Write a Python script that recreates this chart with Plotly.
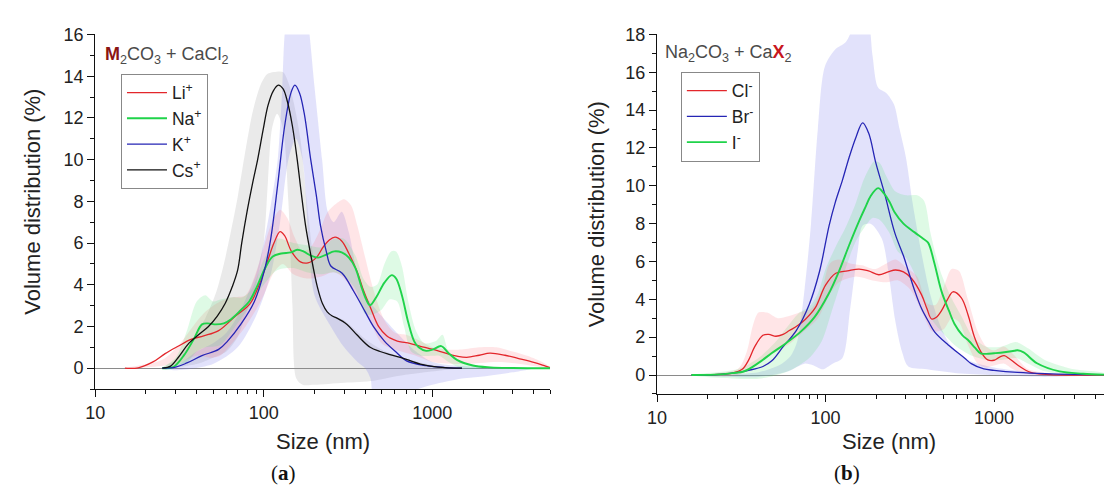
import math
import plotly.graph_objects as go

# ---------------- Panel (a): M2CO3 + CaCl2 ----------------
a_li_x = [15, 18, 22, 26, 31, 37, 44, 54, 68, 83, 95, 105, 115, 125, 133, 146, 165, 183, 205, 225, 245, 265, 290, 320, 357, 391, 430, 480, 536, 560, 620, 700, 850, 1010, 1200, 1400, 1600, 1900, 2200, 2700, 3300, 4000, 4700, 5000]
a_li_y = [0, 0.02, 0.3, 0.7, 1.05, 1.38, 1.55, 1.8, 2.5, 3.1, 4.1, 5.1, 6.0, 6.55, 6.35, 5.6, 5.1, 5.05, 5.3, 5.8, 6.15, 6.28, 6.1, 5.5, 4.66, 3.72, 2.9, 2.0, 1.55, 1.45, 1.3, 1.22, 1.05, 0.9, 0.72, 0.58, 0.52, 0.62, 0.72, 0.62, 0.45, 0.28, 0.1, 0.03]

a_na_x = [25, 29, 33.5, 38.5, 43, 46.5, 52, 58, 64, 73, 82, 91, 102, 113, 127, 145, 158, 172, 190, 210, 235, 262, 290, 320, 350, 380, 405, 427, 465, 520, 575, 610, 660, 720, 780, 830, 920, 1010, 1130, 1250, 1400, 1740, 2200, 3000, 5000]
a_na_y = [0, 0.05, 0.6, 1.4, 2.1, 2.15, 2.1, 2.15, 2.35, 2.78, 3.2, 3.9, 4.8, 5.35, 5.5, 5.55, 5.68, 5.6, 5.4, 5.3, 5.45, 5.6, 5.55, 5.3, 4.8, 3.9, 3.3, 3.02, 3.4, 4.1, 4.46, 4.3, 3.5, 2.2, 1.3, 1.0, 0.83, 0.9, 1.06, 0.72, 0.4, 0.13, 0.04, 0.01, 0]

a_k_x = [25, 30, 35, 43, 54, 61, 73, 88, 101, 110, 121, 133, 145, 153, 163, 174, 190, 205, 217, 235, 250, 292, 341, 400, 447, 520, 614, 703, 920, 1200, 1500]
a_k_y = [0, 0.05, 0.25, 0.6, 0.9, 1.3, 2.1, 3.2, 4.7, 6.2, 8.8, 11.6, 13.2, 13.57, 13.2, 12.2, 10.0, 8.3, 6.85, 5.6, 4.9, 4.55, 3.7, 2.7, 2.0, 1.3, 0.75, 0.35, 0.12, 0.03, 0]

a_cs_x = [25, 28, 31, 36, 41, 47, 53, 59, 65, 70, 74, 80, 86, 92, 99, 106, 114, 122, 130, 138, 148, 158, 167, 177, 190, 208, 223, 238, 255, 272, 312, 357, 428, 490, 561, 703, 850, 1080, 1500]
a_cs_y = [0, 0.1, 0.5, 1.2, 1.6, 2.0, 2.5, 3.1, 3.9, 4.7, 6.0, 7.6, 8.9, 10.0, 11.4, 12.6, 13.3, 13.57, 13.4, 12.8, 11.6, 10.0, 8.4, 6.85, 5.45, 3.9, 3.1, 2.7, 2.5, 2.4, 2.1, 1.6, 1.0, 0.8, 0.65, 0.42, 0.2, 0.05, 0]

# uncertainty bands (upper edge / lower edge)
a_li_up_x = [15, 25, 32, 38, 45, 55, 65, 78, 90, 100, 112, 125, 138, 152, 170, 190, 215, 240, 270, 300, 330, 360, 400, 450, 520, 600, 700, 850, 1000, 1200, 1500, 1900, 2400, 3000, 3800, 4600, 5000]
a_li_up_y = [0, 0.4, 1.2, 2.0, 2.7, 3.2, 3.4, 3.5, 4.6, 5.8, 7.0, 7.6, 7.2, 6.3, 5.6, 5.8, 6.6, 7.5, 7.9, 8.1, 7.8, 6.8, 5.3, 3.7, 2.3, 1.7, 1.6, 1.3, 1.0, 0.9, 0.9, 1.0, 1.0, 0.8, 0.55, 0.25, 0.05]
a_li_lo_x = [15, 30, 40, 48, 55, 65, 78, 90, 100, 115, 130, 150, 180, 220, 260, 300, 350, 420, 500, 600, 800, 1000, 1500, 2500, 4000, 5000]
a_li_lo_y = [0, 0.2, 0.6, 0.5, 0.6, 1.2, 2.0, 2.8, 3.5, 4.6, 5.0, 4.5, 4.3, 4.4, 4.6, 4.3, 3.5, 2.4, 1.2, 0.9, 0.6, 0.3, 0.2, 0.3, 0.1, 0]

a_na_up_x = [25, 30, 35, 40, 45, 50, 56, 65, 75, 85, 100, 120, 150, 180, 220, 260, 300, 350, 390, 430, 470, 520, 570, 610, 660, 720, 800, 900, 1050, 1150, 1250, 1500, 2000, 3000]
a_na_up_y = [0, 0.5, 1.8, 3.2, 3.5, 3.2, 3.3, 3.4, 3.4, 3.8, 5.2, 6.2, 6.0, 5.9, 5.8, 6.2, 6.2, 5.4, 4.3, 3.9, 4.0, 5.0, 5.6, 5.6, 4.9, 3.2, 1.8, 1.2, 1.3, 1.6, 0.8, 0.3, 0.1, 0]
a_na_lo_x = [25, 35, 40, 45, 55, 65, 80, 100, 120, 150, 180, 220, 260, 300, 350, 400, 450, 500, 560, 620, 680, 750, 850, 1000, 1100, 1250, 1500, 3000]
a_na_lo_y = [0, 0.3, 0.8, 1.0, 1.1, 1.8, 2.8, 4.0, 4.7, 4.8, 4.6, 4.5, 4.6, 4.4, 3.8, 2.6, 2.6, 2.8, 3.3, 3.2, 2.0, 0.8, 0.6, 0.6, 0.6, 0.3, 0.0, 0]

a_k_up_x = [25, 30, 40, 50, 60, 70, 80, 90, 100, 110, 121, 128, 135, 150, 165, 180, 200, 222, 240, 260, 290, 320, 360, 400, 500, 600, 800, 1000, 1500, 3000]
a_k_up_y = [0, 0.1, 0.8, 1.2, 1.7, 2.5, 3.5, 4.5, 6.0, 7.8, 10.0, 13.0, 16.5, 18, 18, 17, 13.5, 10.0, 7.5, 7.0, 7.5, 6.5, 4.5, 3.5, 2.5, 1.8, 0.8, 0.3, 0.1, 0]
a_k_lo_x = [25, 30, 50, 70, 90, 110, 125, 140, 155, 170, 185, 200, 250, 300, 360, 400, 430, 450, 600, 1000, 1500, 2000, 3000, 4000]
a_k_lo_y = [0, -0.1, 0.2, 1.0, 2.5, 4.5, 7.0, 10.0, 11.0, 10.0, 6.0, 3.5, 2.0, 1.0, 0.3, 0.0, -0.5, -1.3, -1.3, -0.8, -0.5, -0.4, -0.2, 0]

a_cs_up_x = [25, 30, 35, 45, 52, 58, 64, 70, 77, 86, 96, 105, 115, 130, 140, 150, 165, 180, 195, 210, 230, 260, 300, 400, 500, 700, 1000, 1500]
a_cs_up_y = [0, 0.4, 1.0, 2.4, 3.6, 5.0, 6.6, 8.2, 10.2, 12.3, 13.6, 14.1, 14.2, 14.2, 13.7, 12.8, 11.0, 8.0, 5.5, 3.6, 2.8, 2.5, 2.3, 1.4, 0.9, 0.45, 0.15, 0]
a_cs_lo_x = [25, 40, 50, 60, 70, 80, 90, 100, 106, 112, 120, 130, 140, 148, 156, 170, 200, 300, 450, 600, 900, 1300, 1500]
a_cs_lo_y = [0, 0.2, 0.5, 0.8, 1.5, 2.8, 4.0, 6.0, 9.0, 11.5, 12.2, 11.5, 8.0, 3.0, -0.5, -0.8, -0.8, -0.7, -0.6, -0.4, -0.2, -0.05, 0]

# ---------------- Panel (b): Na2CO3 + CaX2 ----------------
b_cl_x = [16, 22, 28, 32, 35, 38, 42.5, 46, 50.8, 56, 61, 68, 76, 87, 100, 115, 135, 158, 180, 207, 235, 260, 290, 324, 371, 400, 426, 455, 488, 530, 571, 640, 700, 766, 840, 918, 1000, 1080, 1150, 1240, 1380, 1650, 2160, 3000, 4500]
b_cl_y = [0, 0.02, 0.1, 0.3, 0.8, 1.5, 2.1, 2.15, 2.05, 2.15, 2.35, 2.6, 2.95, 3.56, 4.75, 5.38, 5.5, 5.6, 5.5, 5.3, 5.45, 5.55, 5.45, 5.1, 4.25, 3.5, 2.96, 3.05, 3.4, 4.0, 4.4, 4.08, 3.2, 2.0, 1.2, 0.8, 0.78, 0.95, 1.02, 0.85, 0.53, 0.14, 0.02, 0, 0]

b_br_x = [16, 20, 28, 35, 42.5, 48, 56, 67, 80, 92, 105, 114, 126, 138, 152, 166, 180, 199, 224, 258, 290, 310, 340, 372, 410, 445, 533, 668, 733, 870, 1000, 1380, 2000, 3000, 4500]
b_br_y = [0, 0, 0.1, 0.25, 0.45, 0.75, 1.5, 2.35, 3.73, 5.46, 7.9, 9.1, 10.3, 11.5, 12.6, 13.33, 12.8, 11.2, 9.6, 7.5, 6.3, 5.5, 4.4, 3.5, 2.8, 2.27, 1.6, 0.9, 0.6, 0.32, 0.25, 0.14, 0.07, 0.03, 0.02]

b_i_x = [16, 22, 28, 33, 40, 48, 58, 71, 86, 104, 120, 138, 160, 173, 185, 205, 222, 240, 257, 290, 338, 380, 406, 440, 488, 540, 583, 650, 710, 770, 833, 900, 1000, 1150, 1320, 1380, 1500, 1800, 2450, 3380, 4500]
b_i_y = [0, 0.02, 0.1, 0.2, 0.64, 1.16, 1.67, 2.28, 3.06, 4.27, 5.47, 6.86, 8.24, 8.9, 9.45, 9.88, 9.6, 9.15, 8.6, 8.0, 7.54, 7.2, 7.0, 6.0, 4.42, 3.4, 2.7, 2.1, 1.8, 1.45, 1.14, 1.12, 1.15, 1.2, 1.28, 1.31, 1.2, 0.62, 0.19, 0.07, 0.02]

b_cl_up_x = [16, 30, 34, 37, 40, 45, 52, 60, 70, 82, 95, 106, 120, 140, 165, 195, 230, 260, 300, 350, 400, 450, 500, 560, 620, 700, 800, 900, 1000, 1150, 1300, 1600, 2200]
b_cl_up_y = [0, 0.3, 1.2, 2.6, 3.3, 3.3, 3.0, 3.1, 3.3, 3.5, 4.5, 5.9, 6.1, 5.9, 5.8, 5.6, 5.9, 6.1, 5.7, 5.2, 3.8, 3.7, 4.6, 5.6, 5.5, 4.0, 2.3, 1.5, 1.3, 1.5, 1.1, 0.3, 0.05]
b_cl_lo_x = [16, 30, 40, 50, 60, 72, 90, 105, 120, 150, 190, 230, 270, 320, 380, 430, 500, 560, 620, 700, 800, 900, 1000, 1150, 1300, 1600, 2200]
b_cl_lo_y = [0, 0, 0.6, 1.2, 1.6, 2.2, 3.0, 4.2, 4.9, 5.2, 5.0, 4.9, 5.0, 4.5, 3.2, 2.3, 2.4, 3.0, 2.8, 1.6, 0.6, 0.4, 0.5, 0.6, 0.3, 0.05, 0]

b_br_up_x = [16, 40, 55, 62, 68, 75, 82, 90, 99, 114, 132, 150, 165, 180, 190, 205, 230, 255, 275, 300, 330, 370, 420, 480, 550, 700, 1000, 1500, 2500, 4500]
b_br_up_y = [0, 0.15, 0.6, 1.0, 1.8, 4.5, 8.0, 13.0, 16.3, 17.2, 17.6, 18.6, 19.0, 18.6, 16.9, 15.2, 14.9, 14.3, 13.0, 11.5, 9.0, 6.5, 4.2, 2.6, 1.6, 0.8, 0.4, 0.2, 0.05, 0]
b_br_lo_x = [16, 40, 60, 75, 85, 96, 110, 126, 140, 155, 166, 185, 216, 240, 259, 285, 310, 400, 600, 1000, 2000, 4500]
b_br_lo_y = [0, -0.1, 0.2, 0.6, 0.5, 0.3, 0.6, 0.9, 3.5, 6.5, 7.9, 8.0, 7.2, 5.0, 2.9, 1.2, 0.45, 0.3, 0.1, 0.0, -0.1, 0]

b_i_up_x = [16, 30, 40, 50, 60, 70, 80, 90, 100, 115, 130, 150, 170, 195, 210, 230, 260, 300, 350, 385, 420, 480, 550, 650, 750, 900, 1100, 1350, 1600, 2000, 3000, 4500]
b_i_up_y = [0, 0.3, 0.9, 1.7, 2.6, 3.3, 3.6, 4.3, 5.6, 6.8, 7.7, 9.0, 10.4, 11.3, 11.2, 10.5, 9.7, 9.5, 9.5, 9.2, 7.5, 5.5, 4.2, 3.0, 2.0, 1.5, 1.5, 1.75, 1.4, 0.8, 0.3, 0.1]
b_i_lo_x = [16, 40, 60, 80, 95, 110, 130, 150, 170, 190, 210, 240, 270, 300, 340, 380, 430, 500, 600, 750, 900, 1100, 1350, 1600, 2000, 3000, 4500]
b_i_lo_y = [0, -0.2, 0.2, 0.9, 1.8, 3.5, 5.5, 7.0, 7.8, 8.3, 8.2, 7.5, 6.5, 6.2, 5.3, 4.0, 2.9, 2.2, 1.5, 1.0, 0.8, 0.8, 0.9, 0.6, 0.2, 0.05, 0]

# ---------------- axes / labels ----------------
x_ticks = [10, 100, 1000]
x_ticktext = ["10", "100", "1000"]
a_x_minor = [20, 30, 40, 50, 60, 70, 80, 90, 200, 300, 400, 500, 600, 700, 800, 900, 2000, 3000, 4000, 5000]
b_x_minor = [20, 30, 40, 50, 60, 70, 80, 90, 200, 300, 400, 500, 600, 700, 800, 900, 2000, 3000, 4000]
a_y_ticks = [0, 2, 4, 6, 8, 10, 12, 14, 16]
a_y_minor = [-1, 1, 3, 5, 7, 9, 11, 13, 15]
b_y_ticks = [0, 2, 4, 6, 8, 10, 12, 14, 16, 18]
b_y_minor = [-1, 1, 3, 5, 7, 9, 11, 13, 15, 17]

RED = "#E3262B"
GREEN = "#1FD34A"
BLUE = "#2525B5"
BLACK = "#111111"
RED_F = "rgba(255,110,120,0.18)"
GREEN_F = "rgba(70,225,110,0.18)"
BLUE_F = "rgba(125,125,235,0.22)"
GRAY_F = "rgba(150,150,150,0.20)"

W, H = 1104, 486
FONT = "Liberation Sans, Arial, sans-serif"

fig = go.Figure()


def band(ux, uy, lx, ly, color, xa, ya):
    fig.add_trace(go.Scatter(
        x=list(ux) + list(lx)[::-1], y=list(uy) + list(ly)[::-1],
        mode="lines", fill="toself", fillcolor=color,
        line=dict(width=0, shape="spline", smoothing=0.8),
        hoverinfo="skip", showlegend=False, xaxis=xa, yaxis=ya))


def curve(x, y, name, color, width, xa, ya, legend):
    fig.add_trace(go.Scatter(
        x=x, y=y, name=name, mode="lines",
        line=dict(color=color, width=width, shape="spline", smoothing=1.0),
        xaxis=xa, yaxis=ya, legend=legend, hoverinfo="skip"))


# panel (a) bands
band(a_cs_up_x, a_cs_up_y, a_cs_lo_x, a_cs_lo_y, GRAY_F, "x", "y")
band(a_k_up_x, a_k_up_y, a_k_lo_x, a_k_lo_y, BLUE_F, "x", "y")
band(a_li_up_x, a_li_up_y, a_li_lo_x, a_li_lo_y, RED_F, "x", "y")
band(a_na_up_x, a_na_up_y, a_na_lo_x, a_na_lo_y, GREEN_F, "x", "y")
# panel (a) lines
curve(a_li_x, a_li_y, "Li<sup>+</sup>", RED, 1.3, "x", "y", "legend")
curve(a_na_x, a_na_y, "Na<sup>+</sup>", GREEN, 1.9, "x", "y", "legend")
curve(a_k_x, a_k_y, "K<sup>+</sup>", BLUE, 1.3, "x", "y", "legend")
curve(a_cs_x, a_cs_y, "Cs<sup>+</sup>", BLACK, 1.3, "x", "y", "legend")

# panel (b) bands
band(b_br_up_x, b_br_up_y, b_br_lo_x, b_br_lo_y, BLUE_F, "x2", "y2")
band(b_i_up_x, b_i_up_y, b_i_lo_x, b_i_lo_y, GREEN_F, "x2", "y2")
band(b_cl_up_x, b_cl_up_y, b_cl_lo_x, b_cl_lo_y, RED_F, "x2", "y2")
# panel (b) lines
curve(b_cl_x, b_cl_y, "Cl<sup>-</sup>", RED, 1.3, "x2", "y2", "legend2")
curve(b_br_x, b_br_y, "Br<sup>-</sup>", BLUE, 1.3, "x2", "y2", "legend2")
curve(b_i_x, b_i_y, "I<sup>-</sup>", GREEN, 1.9, "x2", "y2", "legend2")

axis_common = dict(
    showline=True, linecolor="#111", linewidth=1.3, ticks="outside", ticklen=7,
    tickwidth=1.2, tickcolor="#111", showgrid=False,
    tickfont=dict(family=FONT, size=18, color="#222"))

fig.update_layout(
    width=W, height=H, margin=dict(l=0, r=0, t=0, b=0),
    paper_bgcolor="white", plot_bgcolor="white", hovermode=False,
    xaxis=dict(type="log", domain=[86 / W, 545 / W], range=[1, math.log10(5000)],
               tickmode="array", tickvals=x_ticks, ticktext=x_ticktext, anchor="y",
               zeroline=False,
               minor=dict(ticks="outside", ticklen=4, tickcolor="#111", tickvals=a_x_minor),
               **axis_common),
    yaxis=dict(domain=[1 - 387 / H, 1 - 25 / H], range=[-1, 16], tickmode="array",
               tickvals=a_y_ticks, anchor="x",
               zeroline=True, zerolinecolor="#8a8a8a", zerolinewidth=1.2,
               minor=dict(ticks="outside", ticklen=4, tickcolor="#111", tickvals=a_y_minor),
               **axis_common),
    xaxis2=dict(type="log", domain=[653 / W, 1.0], range=[1, 1 + (1104 - 653) / 170],
                tickmode="array", tickvals=x_ticks, ticktext=x_ticktext, anchor="y2",
                zeroline=False,
                minor=dict(ticks="outside", ticklen=4, tickcolor="#111", tickvals=b_x_minor),
                **axis_common),
    yaxis2=dict(domain=[1 - 392 / H, 1 - 25 / H], range=[-1, 18], tickmode="array",
                tickvals=b_y_ticks, anchor="x2",
                zeroline=True, zerolinecolor="#8a8a8a", zerolinewidth=1.2,
                minor=dict(ticks="outside", ticklen=4, tickcolor="#111", tickvals=b_y_minor),
                **axis_common),
    legend=dict(x=112 / W, y=1 - 65 / H, xanchor="left", yanchor="top",
                bordercolor="#888", borderwidth=1, bgcolor="rgba(255,255,255,0)",
                font=dict(family=FONT, size=17.5, color="#222"), tracegroupgap=0,
                itemwidth=40),
    legend2=dict(x=677 / W, y=1 - 63 / H, xanchor="left", yanchor="top",
                 bordercolor="#888", borderwidth=1, bgcolor="rgba(255,255,255,0)",
                 font=dict(family=FONT, size=17.5, color="#222"), tracegroupgap=0,
                 itemwidth=40),
)

ann = []
# y-axis titles
ann.append(dict(text="Volume distribution (%)", x=23 / W, y=1 - 196 / H, textangle=-90,
                font=dict(family=FONT, size=22, color="#222")))
ann.append(dict(text="Volume distribution (%)", x=592 / W, y=1 - 209 / H, textangle=-90,
                font=dict(family=FONT, size=22, color="#222")))
# x-axis titles
ann.append(dict(text="Size (nm)", x=316 / W, y=1 - 441 / H,
                font=dict(family=FONT, size=22, color="#222")))
ann.append(dict(text="Size (nm)", x=887 / W, y=1 - 441 / H,
                font=dict(family=FONT, size=22, color="#222")))
# panel labels
ann.append(dict(text="(<b>a</b>)", x=276 / W, y=1 - 473 / H,
                font=dict(family="Liberation Serif, DejaVu Serif, serif", size=21, color="#111")))
ann.append(dict(text="(<b>b</b>)", x=845 / W, y=1 - 473 / H,
                font=dict(family="Liberation Serif, DejaVu Serif, serif", size=21, color="#111")))
# panel titles
ann.append(dict(text="<b><span style='color:#8B1414'>M</span></b><sub>2</sub>CO<sub>3</sub> + CaCl<sub>2</sub>",
                x=94 / W, y=1 - 46 / H, xanchor="left",
                font=dict(family=FONT, size=18, color="#4a4a4a")))
ann.append(dict(text="Na<sub>2</sub>CO<sub>3</sub> + Ca<b><span style='color:#C8161D'>X</span></b><sub>2</sub>",
                x=659 / W, y=1 - 44 / H, xanchor="left",
                font=dict(family=FONT, size=18, color="#4a4a4a")))

for a in ann:
    a.setdefault("xanchor", "center")
    a.update(xref="paper", yref="paper", yanchor="middle", showarrow=False)
fig.update_layout(annotations=ann)

# remove the browser's default page margin so the figure fills the 1104x486 window exactly
fig.write_html("out.html",
               config={"displayModeBar": False},
               post_script="document.body.style.margin='0';document.body.style.overflow='hidden';")
